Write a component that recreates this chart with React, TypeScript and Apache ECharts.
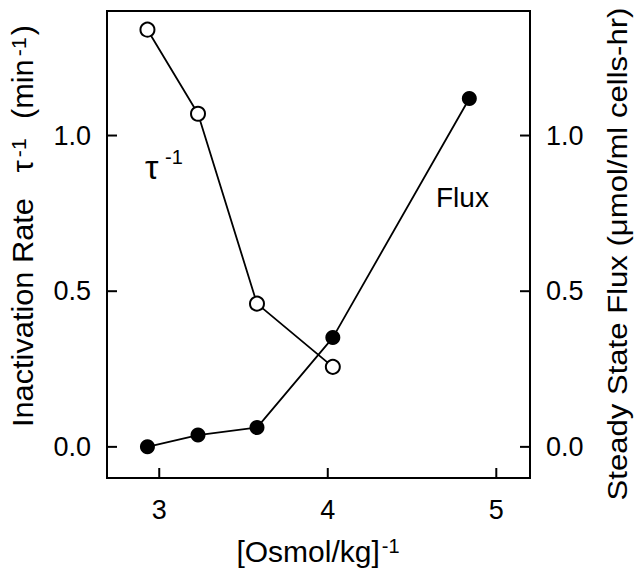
import React, { useEffect, useRef } from 'react';
import * as echarts from 'echarts';

const tauX = [2.93, 3.23, 3.58, 4.03];
const tauValues = [1.34, 1.07, 0.46, 0.257];
const fluxX = [2.93, 3.23, 3.58, 4.03, 4.84];
const fluxValues = [0, 0.038, 0.062, 0.351, 1.119];
const xTicks = [3, 4, 5];
const yTicks = [0, 0.5, 1.0];
const X_MIN = 2.69;
const X_MAX = 5.2;
const Y_MIN = -0.1;
const Y_MAX = 1.4;

const FONT = '"Liberation Sans", Arial, sans-serif';

export default function App() {
  const ref = useRef<HTMLDivElement>(null);
  useEffect(() => {
    document.body.style.margin = '0';
    const chart = echarts.init(ref.current!, null, { renderer: 'svg' });
    const axisLine = { show: true, onZero: false, lineStyle: { color: '#000', width: 2 } };
    const yAxisBase = (pos: 'left' | 'right', margin: number) => ({
      type: 'value',
      position: pos,
      min: Y_MIN,
      max: Y_MAX,
      axisLine,
      splitLine: { show: false },
      axisTick: { show: false },
      axisLabel: {
        customValues: yTicks,
        formatter: (v: number) => v.toFixed(1),
        fontSize: 27,
        color: '#000',
        fontFamily: FONT,
        margin,
      },
    });
    const textEls: any[] = [
      {
        id: 'ytitleL',
        type: 'text',
        x: 23,
        y: 226,
        rotation: Math.PI / 2,
        scaleX: 1.06,
        style: {
          text: '{a|Inactivation Rate   τ}{s|-1}{a|  (min}{s|-1}{a|)}',
          rich: {
            a: { fontSize: 29, fontFamily: FONT, fill: '#000' },
            s: { fontSize: 20, fontFamily: FONT, fill: '#000', verticalAlign: 'top', padding: [0, 2, 0, 3] },
          },
          align: 'center',
          verticalAlign: 'middle',
        },
      },
      {
        id: 'ytitleR',
        type: 'text',
        x: 617,
        y: 254,
        rotation: Math.PI / 2,
        scaleX: 1.11,
        style: {
          text: 'Steady State Flux (μmol/ml cells-hr)',
          fontSize: 28,
          fontFamily: FONT,
          fill: '#000',
          align: 'center',
          verticalAlign: 'middle',
        },
      },
      {
        id: 'xtitle',
        type: 'text',
        x: 318,
        y: 551,
        style: {
          text: '{a|[Osmol/kg]}{s|-1}',
          rich: {
            a: { fontSize: 30, fontFamily: FONT, fill: '#000' },
            s: { fontSize: 20, fontFamily: FONT, fill: '#000', verticalAlign: 'top', padding: [0, 0, 0, 2] },
          },
          align: 'center',
          verticalAlign: 'middle',
        },
      },
      {
        id: 'tauLabel',
        type: 'text',
        x: 145,
        y: 167,
        style: {
          text: 'τ',
          fontSize: 34,
          fontFamily: FONT,
          fill: '#000',
          align: 'left',
          verticalAlign: 'middle',
        },
      },
      {
        id: 'tauSup',
        type: 'text',
        x: 165,
        y: 157,
        style: {
          text: '-1',
          fontSize: 20,
          fontFamily: FONT,
          fill: '#000',
          align: 'left',
          verticalAlign: 'middle',
        },
      },
      {
        id: 'fluxLabel',
        type: 'text',
        x: 436,
        y: 197,
        style: {
          text: 'Flux',
          fontSize: 28,
          fontFamily: FONT,
          fill: '#000',
          align: 'left',
          verticalAlign: 'middle',
        },
      },
    ];
    const option: any = {
      animation: false,
      backgroundColor: '#fff',
      grid: { left: 107, right: 110, top: 11, bottom: 101, show: true, borderColor: '#000', borderWidth: 2, backgroundColor: 'transparent' },
      xAxis: {
        type: 'value',
        min: X_MIN,
        max: X_MAX,
        axisLine,
        splitLine: { show: false },
        axisTick: { show: false },
        axisLabel: { customValues: xTicks, fontSize: 27, color: '#000', fontFamily: FONT, margin: 18 },
      },
      yAxis: [yAxisBase('left', 16), yAxisBase('right', 16)],
      series: [
        {
          type: 'line',
          yAxisIndex: 0,
          data: tauX.map((x, i) => [x, tauValues[i]]),
          symbol: 'circle',
          symbolSize: 14,
          itemStyle: { color: '#fff', borderColor: '#000', borderWidth: 2 },
          lineStyle: { color: '#000', width: 1.8 },
          z: 3,
        },
        {
          type: 'line',
          yAxisIndex: 1,
          data: fluxX.map((x, i) => [x, fluxValues[i]]),
          symbol: 'circle',
          symbolSize: 15,
          itemStyle: { color: '#000', borderColor: '#000', borderWidth: 0 },
          lineStyle: { color: '#000', width: 1.8 },
          z: 2,
        },
      ],
      graphic: textEls,
    };
    chart.setOption(option);

    // inward ticks computed from the axes' own scales
    const TL = 10;
    const left = chart.convertToPixel({ xAxisIndex: 0 }, X_MIN) as number;
    const right = chart.convertToPixel({ xAxisIndex: 0 }, X_MAX) as number;
    const bottom = chart.convertToPixel({ yAxisIndex: 0 }, Y_MIN) as number;
    const tickEls: any[] = [];
    xTicks.forEach((v, i) => {
      const px = chart.convertToPixel({ xAxisIndex: 0 }, v) as number;
      tickEls.push({
        id: 'xt' + i,
        type: 'line',
        shape: { x1: px, y1: bottom, x2: px, y2: bottom - TL },
        style: { stroke: '#000', lineWidth: 2 },
        z: 10,
      });
    });
    yTicks.forEach((v, i) => {
      const pyL = chart.convertToPixel({ yAxisIndex: 0 }, v) as number;
      const pyR = chart.convertToPixel({ yAxisIndex: 1 }, v) as number;
      tickEls.push({
        id: 'ytl' + i,
        type: 'line',
        shape: { x1: left, y1: pyL, x2: left + TL, y2: pyL },
        style: { stroke: '#000', lineWidth: 2 },
        z: 10,
      });
      tickEls.push({
        id: 'ytr' + i,
        type: 'line',
        shape: { x1: right, y1: pyR, x2: right - TL, y2: pyR },
        style: { stroke: '#000', lineWidth: 2 },
        z: 10,
      });
    });
    chart.setOption({ graphic: [...textEls, ...tickEls] });
    return () => chart.dispose();
  }, []);
  return <div ref={ref} style={{ width: 640, height: 579 }} />;
}
